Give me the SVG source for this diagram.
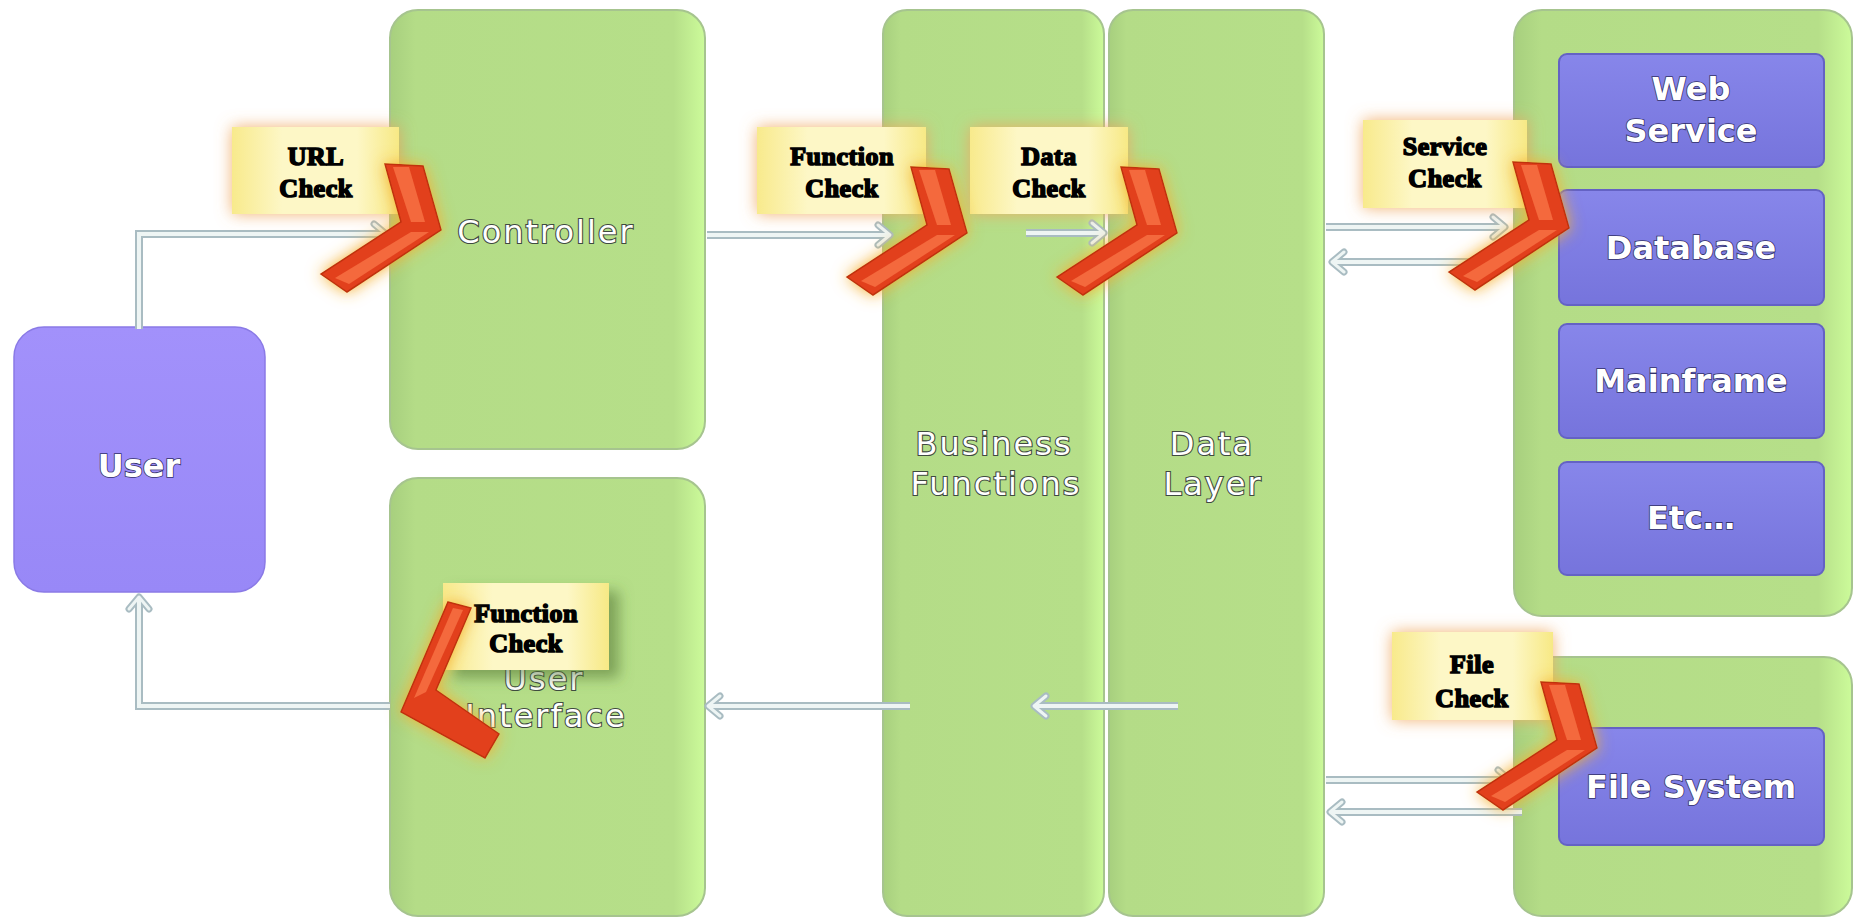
<svg xmlns="http://www.w3.org/2000/svg" width="1866" height="922" viewBox="0 0 1866 922">
<defs>
<style>
.green{fill:url(#gGreen);stroke:#a6c48f;stroke-width:2}
.purple{fill:url(#gUser);stroke:#8a7ae6;stroke-width:1.5}
.inner{fill:url(#gInner);stroke:#6462c4;stroke-width:2}
.lbl{font-family:"DejaVu Sans",Verdana,sans-serif;font-size:32px;letter-spacing:2px;fill:#ffffff;stroke:#3f4a40;stroke-width:2.2px;paint-order:stroke;text-anchor:middle}
.lblb{font-family:"DejaVu Sans",Verdana,sans-serif;font-weight:bold;font-size:32px;fill:#ffffff;stroke:#34326a;stroke-width:1.6px;paint-order:stroke;text-anchor:middle}
.chk{font-family:"Liberation Serif","Times New Roman",serif;font-weight:bold;font-size:26px;fill:#000;stroke:#000;stroke-width:1.6px;text-anchor:middle;letter-spacing:0.5px}
.note{fill:url(#gYellow)}
.cout{fill:none;stroke:#a9bcc2;stroke-width:8}
.cin{fill:none;stroke:#eef5f4;stroke-width:4}
.chev{fill:#e2401e;stroke:#c0300f;stroke-width:1.5}
.chevhl{fill:#f4693c}
</style>
<linearGradient id="gGreen" x1="0" y1="0" x2="1" y2="0">
<stop offset="0" stop-color="#a7cf7e"/>
<stop offset="0.08" stop-color="#b4dc87"/>
<stop offset="0.9" stop-color="#b6df89"/>
<stop offset="1" stop-color="#ccfb9a"/>
</linearGradient>
<linearGradient id="gUser" x1="0" y1="0" x2="0" y2="1">
<stop offset="0" stop-color="#a291fb"/>
<stop offset="1" stop-color="#9888f7"/>
</linearGradient>
<linearGradient id="gInner" x1="0" y1="0" x2="0" y2="1">
<stop offset="0" stop-color="#8786ea"/>
<stop offset="1" stop-color="#7674dc"/>
</linearGradient>
<linearGradient id="gYellow" x1="0" y1="0" x2="1" y2="0">
<stop offset="0" stop-color="#f8ea8c"/>
<stop offset="0.3" stop-color="#fdf7c6"/>
<stop offset="0.75" stop-color="#fdf7c6"/>
<stop offset="1" stop-color="#f7e985"/>
</linearGradient>
<filter id="chevGlow" x="-50%" y="-50%" width="200%" height="200%">
<feGaussianBlur in="SourceAlpha" stdDeviation="8" result="b"/>
<feFlood flood-color="#f5b030" flood-opacity="1"/>
<feComposite in2="b" operator="in" result="g"/>
<feMerge><feMergeNode in="g"/><feMergeNode in="SourceGraphic"/></feMerge>
</filter>
<filter id="noteGlow" x="-30%" y="-40%" width="160%" height="180%">
<feGaussianBlur in="SourceAlpha" stdDeviation="8" result="b"/>
<feFlood flood-color="#f0a860" flood-opacity="0.9"/>
<feComposite in2="b" operator="in" result="g"/>
<feMerge><feMergeNode in="g"/><feMergeNode in="SourceGraphic"/></feMerge>
</filter>
<filter id="noteShadow" x="-30%" y="-40%" width="160%" height="180%">
<feGaussianBlur in="SourceAlpha" stdDeviation="7"/>
<feOffset dx="10" dy="8" result="o"/>
<feFlood flood-color="#4f7030" flood-opacity="0.55"/>
<feComposite in2="o" operator="in" result="g"/>
<feMerge><feMergeNode in="g"/><feMergeNode in="SourceGraphic"/></feMerge>
</filter>
<marker id="arrOut" markerUnits="userSpaceOnUse" viewBox="-16 -14 20 28" refX="0" refY="0" markerWidth="20" markerHeight="28" orient="auto">
<path d="M-12,-10 L0,0 L-12,10" fill="none" stroke="#a9bcc2" stroke-width="7" stroke-linecap="round" stroke-linejoin="round"/>
<path d="M-12,-10 L0,0 L-12,10" fill="none" stroke="#eef5f4" stroke-width="3" stroke-linecap="round" stroke-linejoin="round"/>
</marker>
<g id="chevR">
<polygon class="chev" points="-52,-68 -14,-66 4,-2 -90,60 -116,42 -36,-10"/>
<polygon class="chevhl" points="-44,-65 -28,-65 -12,-10 -26,-10"/>
<polygon class="chevhl" points="-26,0 -8,0 -88,52 -102,46"/>
</g>
</defs>

<rect width="1866" height="922" fill="#ffffff"/>

<g id="node-user"><rect class="purple" x="14" y="327" width="251" height="265" rx="30"/><text class="lblb" x="139" y="477" font-size="33">User</text></g>
<g id="node-controller"><rect class="green" x="390" y="10" width="315" height="439" rx="28"/><text class="lbl" x="546" y="243">Controller</text></g>
<g id="node-ui"><rect class="green" x="390" y="478" width="315" height="438" rx="28"/><text class="lbl" x="544" y="690">User</text><text class="lbl" x="546" y="727">Interface</text></g>
<g id="node-business"><rect class="green" x="883" y="10" width="221" height="906" rx="24"/><text class="lbl" x="994" y="455">Business</text><text class="lbl" x="996" y="495">Functions</text></g>
<g id="node-data"><rect class="green" x="1109" y="10" width="215" height="906" rx="24"/><text class="lbl" x="1212" y="455">Data</text><text class="lbl" x="1213" y="495">Layer</text></g>
<g id="node-services"><rect class="green" x="1514" y="10" width="338" height="606" rx="28"/></g>
<g id="node-webservice"><rect class="inner" x="1559" y="54" width="265" height="113" rx="8"/><text class="lblb" x="1691" y="100">Web</text><text class="lblb" x="1691" y="142">Service</text></g>
<g id="node-database"><rect class="inner" x="1559" y="190" width="265" height="115" rx="8"/><text class="lblb" x="1691" y="259">Database</text></g>
<g id="node-mainframe"><rect class="inner" x="1559" y="324" width="265" height="114" rx="8"/><text class="lblb" x="1691" y="392">Mainframe</text></g>
<g id="node-etc"><rect class="inner" x="1559" y="462" width="265" height="113" rx="8"/><text class="lblb" x="1691" y="529">Etc…</text></g>
<g id="node-filecontainer"><rect class="green" x="1514" y="657" width="338" height="259" rx="28"/></g>
<g id="node-filesystem"><rect class="inner" x="1559" y="728" width="265" height="117" rx="8"/><text class="lblb" x="1691" y="798">File System</text></g>

<g id="connectors">
<path class="cout" d="M139,329 V234 H386" marker-end="url(#arrOut)"/>
<path class="cin" d="M139,329 V234 H386"/>
<path class="cout" d="M707,235 H890" marker-end="url(#arrOut)"/>
<path class="cin" d="M707,235 H890"/>
<path class="cout" d="M1026,233 H1104" marker-end="url(#arrOut)"/>
<path class="cin" d="M1026,233 H1104"/>
<path class="cout" d="M1326,227 H1505" marker-end="url(#arrOut)"/>
<path class="cin" d="M1326,227 H1505"/>
<path class="cout" d="M1505,262 H1332" marker-end="url(#arrOut)"/>
<path class="cin" d="M1505,262 H1332"/>
<path class="cout" d="M1326,780 H1510" marker-end="url(#arrOut)"/>
<path class="cin" d="M1326,780 H1510"/>
<path class="cout" d="M1522,812 H1330" marker-end="url(#arrOut)"/>
<path class="cin" d="M1522,812 H1330"/>
<path class="cout" d="M1178,706 H1034" marker-end="url(#arrOut)"/>
<path class="cin" d="M1178,706 H1034"/>
<path class="cout" d="M910,706 H708" marker-end="url(#arrOut)"/>
<path class="cin" d="M910,706 H708"/>
<path class="cout" d="M390,706 H139 V597" marker-end="url(#arrOut)"/>
<path class="cin" d="M390,706 H139 V597"/>
</g>

<g id="check-url"><rect class="note" x="232" y="127" width="167" height="87" filter="url(#noteGlow)"/><text class="chk" x="316" y="165">URL</text><text class="chk" x="316" y="197">Check</text></g>
<g id="check-function-top"><rect class="note" x="757" y="127" width="169" height="87" filter="url(#noteGlow)"/><text class="chk" x="842" y="165">Function</text><text class="chk" x="842" y="197">Check</text></g>
<g id="check-data"><rect class="note" x="970" y="127" width="158" height="87" filter="url(#noteGlow)"/><text class="chk" x="1049" y="165">Data</text><text class="chk" x="1049" y="197">Check</text></g>
<g id="check-service"><rect class="note" x="1363" y="120" width="164" height="88" filter="url(#noteGlow)"/><text class="chk" x="1445" y="155">Service</text><text class="chk" x="1445" y="187">Check</text></g>
<g id="check-file"><rect class="note" x="1392" y="632" width="161" height="88" filter="url(#noteGlow)"/><text class="chk" x="1472" y="673">File</text><text class="chk" x="1472" y="707">Check</text></g>
<g id="check-function-ui"><rect class="note" x="443" y="583" width="166" height="87" filter="url(#noteShadow)"/><text class="chk" x="526" y="622">Function</text><text class="chk" x="526" y="652">Check</text></g>

<g id="chevrons" filter="url(#chevGlow)">
<use href="#chevR" transform="translate(437,232)"/>
<use href="#chevR" transform="translate(963,235)"/>
<use href="#chevR" transform="translate(1173,235)"/>
<use href="#chevR" transform="translate(1565,230)"/>
<use href="#chevR" transform="translate(1593,750)"/>
<polygon class="chev" points="448,602 471,608 436,690 499,734 485,758 401,712"/>
<polygon class="chevhl" points="453,608 463,610 426,692 414,698"/>
</g>
</svg>
